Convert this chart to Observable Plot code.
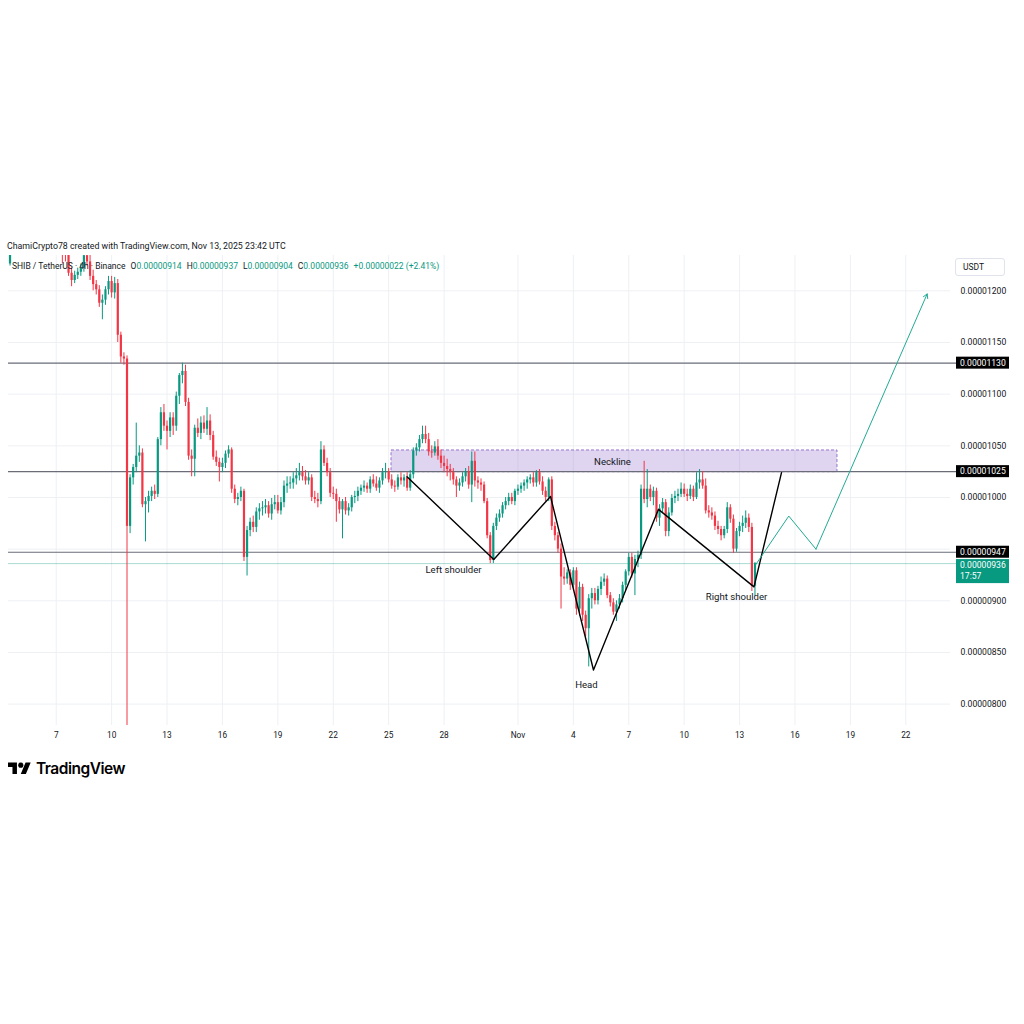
<!DOCTYPE html>
<html><head><meta charset="utf-8">
<script src="https://cdn.jsdelivr.net/npm/d3@7"></script>
<script src="https://cdn.jsdelivr.net/npm/@observablehq/plot@0.6"></script>
<style>
html,body{margin:0;padding:0;background:#fff;}
#page{position:relative;width:1024px;height:1024px;overflow:hidden;font-family:Roboto,"Noto Sans",sans-serif;color:#131722;}
#title{position:absolute;left:7px;top:240px;font-size:8.8px;line-height:12px;white-space:nowrap;}
#chart{position:absolute;left:0;top:250px;}
#legend{position:absolute;left:12px;top:260px;font-size:8.5px;line-height:12px;white-space:nowrap;}
#legend .val{color:#089981}
#legend .gap{display:inline-block;width:5px}
#unit{position:absolute;left:955px;top:258px;width:50px;height:18px;border:1px solid #e0e3eb;border-radius:3px;font-size:8.5px;line-height:16px;padding-left:7px;box-sizing:border-box;}
#logo{position:absolute;left:8px;top:759px;display:flex;align-items:center;gap:5px;font-family:Inter,Roboto,sans-serif;font-weight:600;font-size:15.5px;letter-spacing:-0.5px;color:#000;}
</style></head>
<body>
<div id="page">
  <div id="title">ChamiCrypto78 created with TradingView.com, Nov 13, 2025 23:42 UTC</div>
  <div id="chart"></div>
  <div id="legend"></div>
  <div id="unit">USDT</div>
  <div id="logo"><svg width="23" height="18" viewBox="0 0 36 28"><path d="M14 22H7V11H0V4h14v18zM28 22h-8l7.5-18h8L28 22z" fill="#000"/><circle cx="20" cy="8" r="4" fill="#000"/></svg><span>TradingView</span></div>
</div>
<script>
// ---------- DATA (prices in units of 0.00000001 USDT) ----------
const symbolText = "SHIB / TetherUS · 4h · Binance";
const firstCandle = "2025-10-04T08:00Z";   // open time of first 4h candle
const candleHours = 4;

const open = [
1262,1226,1252,1260,1276,1284,1275,1280,1295,1286,
1272,1278,1283,1270,1262,1268,1260,1252,1258,1245,
1238,1217,1210,1215,1218,1222,1234,1228,1214,1206,
1201,1188,1191,1201,1209,1198,1207,1157,1136,1134,
972,1019,1029,1040,1043,993,996,1001,1006,1003,
1056,1082,1069,1064,1077,1069,1098,1118,1122,1092,
1040,1037,1067,1062,1072,1066,1074,1060,1039,1034,
1029,1033,1042,1046,1008,998,1000,1006,942,968,
976,971,986,989,990,992,984,993,995,987,
995,1011,1013,1014,1018,1021,1024,1020,1016,1019,
1000,998,996,1046,1033,1024,1004,1003,996,988,
996,987,990,1000,1001,1006,1009,1011,1008,1017,
1013,1009,1016,1024,1025,1017,1011,1010,1019,1016,
1019,1009,1022,1045,1048,1056,1061,1056,1044,1043,
1049,1040,1033,1030,1027,1024,1017,1011,1014,1020,
1025,1012,1035,1016,1014,1012,996,963,939,972,
980,984,992,996,1000,996,1006,1008,1011,1014,
1017,1019,1014,1024,1015,1006,1000,1017,972,963,
950,923,921,927,915,929,892,913,886,873,
902,907,900,911,918,921,905,898,889,896,
902,915,928,942,926,940,944,1008,998,1008,
1000,1006,980,989,995,967,985,999,1001,1003,
1008,1003,1001,1008,1000,1014,1017,1011,987,985,
982,972,969,963,969,990,979,950,967,972,
975,980,971,914];
const high = [
1270,1262,1268,1282,1290,1296,1288,1302,1305,1294,
1285,1290,1292,1280,1275,1278,1270,1266,1268,1258,
1244,1222,1219,1222,1226,1240,1245,1235,1220,1210,
1205,1196,1204,1214,1214,1213,1211,1160,1140,1137,
1022,1032,1072,1050,1047,1000,1006,1010,1012,1058,
1087,1090,1074,1082,1082,1102,1120,1130,1128,1096,
1046,1070,1076,1078,1079,1087,1080,1064,1045,1038,
1038,1045,1050,1048,1012,1004,1010,1008,972,980,
982,990,994,996,998,996,999,1002,1002,1000,
1016,1020,1020,1024,1028,1033,1030,1026,1024,1022,
1006,1004,1054,1050,1038,1028,1010,1008,1000,998,
1000,994,1002,1006,1010,1012,1016,1014,1020,1022,
1020,1019,1028,1033,1028,1022,1016,1022,1024,1022,
1024,1026,1048,1052,1060,1069,1069,1062,1050,1054,
1056,1046,1040,1037,1032,1028,1020,1018,1024,1028,
1030,1044,1044,1020,1018,1015,999,966,975,984,
988,995,1000,1004,1004,1008,1012,1014,1017,1020,
1022,1024,1026,1027,1020,1010,1019,1020,976,966,
955,932,930,930,932,932,918,916,890,906,
912,912,914,923,926,924,908,902,900,906,
918,930,946,946,944,948,1012,1035,1027,1012,
1010,1009,993,999,998,990,1003,1006,1008,1014,
1013,1008,1012,1011,1024,1027,1025,1018,992,990,
986,977,972,972,995,993,983,970,976,982,
987,984,975,937];
const low = [
1222,1224,1245,1255,1268,1270,1262,1276,1280,1268,
1262,1270,1265,1255,1250,1256,1246,1240,1226,1228,
1214,1204,1207,1211,1214,1218,1224,1210,1200,1196,
1184,1172,1186,1196,1193,1192,1150,1130,1128,775,
965,1012,1024,1034,990,957,985,996,998,1000,
1050,1064,1046,1058,1060,1064,1090,1110,1088,1036,
1020,1020,1058,1056,1062,1060,1055,1036,1030,1015,
1024,1028,1038,1004,994,992,996,938,924,962,
966,966,978,982,984,980,978,988,984,983,
990,1004,1008,1008,1012,1016,1016,1012,1012,996,
994,990,993,1030,1020,1000,998,976,984,960,
983,982,986,994,996,1002,1005,1004,1004,1010,
1006,1004,1012,1018,1014,1008,1005,1007,1012,1010,
1006,1006,1018,1040,1044,1052,1052,1040,1038,1040,
1036,1028,1024,1020,1016,1012,1000,1006,1010,1015,
1008,995,1010,1008,1006,994,960,936,936,968,
976,980,988,992,993,992,1002,1004,1006,1008,
1013,1010,1010,1012,1002,996,996,968,958,946,
892,915,916,910,912,886,885,880,865,836,
892,896,896,905,914,902,894,886,880,892,
898,910,924,922,905,932,940,994,990,996,
992,976,972,985,962,962,982,994,996,1000,
1000,996,998,996,998,1008,1008,984,980,978,
968,964,958,960,965,975,946,947,962,966,
970,966,909,904];
const close = [
1226,1252,1260,1276,1284,1275,1280,1295,1286,1272,
1278,1283,1270,1262,1268,1260,1252,1258,1245,1238,
1217,1210,1215,1218,1222,1234,1228,1214,1206,1201,
1188,1191,1201,1209,1198,1207,1157,1136,1134,972,
1019,1029,1040,1043,993,996,1001,1006,1003,1056,
1082,1069,1064,1077,1069,1098,1118,1122,1092,1040,
1037,1067,1062,1072,1066,1074,1060,1039,1034,1029,
1033,1042,1046,1008,998,1000,1006,942,968,976,
971,986,989,990,992,984,993,995,987,995,
1011,1013,1014,1018,1021,1024,1020,1016,1019,1000,
998,996,1046,1033,1024,1004,1003,996,988,996,
987,990,1000,1001,1006,1009,1011,1008,1017,1013,
1009,1016,1024,1025,1017,1011,1010,1019,1016,1019,
1009,1022,1045,1048,1056,1061,1056,1044,1043,1049,
1040,1033,1030,1027,1024,1017,1011,1014,1020,1025,
1012,1035,1016,1014,1012,996,963,939,972,980,
984,992,996,1000,996,1006,1008,1011,1014,1017,
1019,1014,1024,1015,1006,1000,1017,972,963,950,
923,921,927,915,929,892,913,886,873,902,
907,900,911,918,921,905,898,889,896,902,
915,928,942,926,940,944,1008,998,1008,1000,
1006,980,989,995,967,985,999,1001,1003,1008,
1003,1001,1008,1000,1014,1017,1011,987,985,982,
972,969,963,969,990,979,950,967,972,975,
980,971,914,936];

// horizontal levels and price tags
const levelPrices = [1130, 1025, 947];
const lastPrice = 936;
const tagPrices = [1130, 1025, 947, 936];
const tagLines = [["0.00001130"], ["0.00001025"], ["0.00000947"], ["0.00000936", "17:57"]];

// head & shoulders drawing
const patternTimes = ["2025-10-25T23:50Z","2025-10-30T16:36Z","2025-11-02T18:17Z","2025-11-05T02:10Z","2025-11-08T14:38Z","2025-11-13T18:43Z","2025-11-15T06:29Z"];
const patternPrices = [1020, 940, 1001, 833, 988.5, 913.5, 1024];
const projTimes = ["2025-11-13T21:00Z","2025-11-15T15:56Z","2025-11-17T03:17Z","2025-11-23T03:46Z"];
const projPrices = [935, 982, 950, 1197];
const necklineTimes = ["2025-10-25T03:42Z","2025-11-18T07:12Z"];
const necklinePrices = [1024.5, 1045.5];
const annoTexts = ["Neckline","Left shoulder","Head","Right shoulder"];
const annoTimes = ["2025-11-06T02:53Z","2025-10-28T12:14Z","2025-11-04T17:03Z","2025-11-12T20:00Z"];
const annoPrices = [1034, 930, 819, 904];

// axes
const xTickDates = ["2025-10-07","2025-10-10","2025-10-13","2025-10-16","2025-10-19","2025-10-22","2025-10-25","2025-10-28","2025-11-01","2025-11-04","2025-11-07","2025-11-10","2025-11-13","2025-11-16","2025-11-19","2025-11-22"];
const xTickLabels = ["7","10","13","16","19","22","25","28","Nov","4","7","10","13","16","19","22"];
const yGrid = [800,850,900,950,1000,1050,1100,1150,1200];
const yTickLabels = [800,850,900,1000,1050,1100,1150,1200]; // 950 hidden behind the price tags
const xDomain = ["2025-10-04T10:00Z","2025-11-24T10:05Z"];
const yDomain = [779.3, 1234.2];

// ---------- STYLE ----------
const UP = "#089981", DOWN = "#f23645";
const tagFills = ["#000000","#000000","#000000","#089981"];
const tagShift = [0, 0, 0, 2];

// ---------- BUILD ----------
const fmt = v => (v / 1e8).toFixed(8);
const t0 = Date.parse(firstCandle);
const candles = open.map((o, i) => ({t: new Date(t0 + i * candleHours * 3600e3), o, h: high[i], l: low[i], c: close[i]}));
const ups = candles.filter(d => d.c >= d.o);
const downs = candles.filter(d => d.c < d.o);
const pattern = patternTimes.map((t, i) => ({t: new Date(t), p: patternPrices[i]}));
const proj = projTimes.map((t, i) => ({t: new Date(t), p: projPrices[i]}));
const projLine = proj.slice(0, 3);
const projArrow = [{x1: proj[2].t, y1: proj[2].p, x2: proj[3].t, y2: proj[3].p}];
const neck = [{x1: new Date(necklineTimes[0]), x2: new Date(necklineTimes[1]), y1: necklinePrices[0], y2: necklinePrices[1]}];
const annos = annoTexts.map((s, i) => ({s, t: new Date(annoTimes[i]), p: annoPrices[i]}));
const xTicks = xTickDates.map(d => new Date(d));
const xLabelMap = new Map(xTicks.map((d, i) => [+d, xTickLabels[i]]));

function tagMark(index, scales, values, dims) {
  const g = d3.create("svg:g").attr("font-size", 8.6).attr("text-anchor", "start");
  const x0 = dims.width - dims.marginRight + 6;
  tagPrices.forEach((p, i) => {
    const y = scales.y(p);
    const lines = tagLines[i];
    const top = y - 6 + tagShift[i];
    g.append("rect").attr("x", x0).attr("y", top).attr("width", 53).attr("height", 12 * lines.length).attr("fill", tagFills[i]);
    lines.forEach((s, k) => g.append("text").attr("x", x0 + 4).attr("y", top + 6 + 11 * k).attr("dy", "0.35em").attr("fill", "#fff").text(s));
  });
  return g.node();
}

const chart = Plot.plot({
  width: 1024, height: 500,
  marginLeft: 8, marginRight: 74, marginTop: 5, marginBottom: 25,
  style: {fontFamily: "Roboto, sans-serif", background: "transparent", color: "#131722"},
  x: {type: "utc", domain: xDomain.map(d => new Date(d)), axis: null},
  y: {domain: yDomain, axis: null},
  marks: [
    Plot.gridX(xTicks, {stroke: "#eef0f4", strokeOpacity: 1}),
    Plot.gridY(yGrid, {stroke: "#eef0f4", strokeOpacity: 1}),
    Plot.rect(neck, {x1: "x1", x2: "x2", y1: "y1", y2: "y2", fill: "rgba(149,117,205,0.3)", stroke: "#9575cd", strokeDasharray: "3,2", strokeWidth: 1}),
    Plot.ruleY(levelPrices, {stroke: "#6a6d78", strokeWidth: 1.2, insetRight: -7}),
    Plot.ruleY([lastPrice], {stroke: UP, strokeOpacity: 0.35, strokeWidth: 1, insetRight: -7}),
    Plot.ruleX(ups, {x: "t", y1: "l", y2: "h", stroke: UP, strokeWidth: 1, clip: true}),
    Plot.ruleX(downs, {x: "t", y1: "l", y2: "h", stroke: DOWN, strokeWidth: 1, clip: true}),
    Plot.ruleX(ups, {x: "t", y1: "o", y2: "c", stroke: UP, strokeWidth: 2.2, clip: true}),
    Plot.ruleX(downs, {x: "t", y1: "o", y2: "c", stroke: DOWN, strokeWidth: 2.2, clip: true}),
    Plot.line(pattern, {x: "t", y: "p", stroke: "#000", strokeWidth: 1.4}),
    Plot.line(projLine, {x: "t", y: "p", stroke: "#22ab94", strokeWidth: 1}),
    Plot.arrow(projArrow, {x1: "x1", y1: "y1", x2: "x2", y2: "y2", stroke: "#22ab94", strokeWidth: 1, headLength: 7}),
    Plot.text(annos, {x: "t", y: "p", text: "s", fontSize: 9.6, fill: "#131722"}),
    Plot.axisX(xTicks, {tickSize: 0, tickPadding: 7, fontSize: 8.3, tickFormat: d => xLabelMap.get(+d), label: null}),
    Plot.axisY(yTickLabels, {anchor: "right", tickSize: 0, tickPadding: 10, fontSize: 8.6, tickFormat: fmt, label: null}),
    tagMark
  ]
});
document.getElementById("chart").appendChild(chart);

// legend line built from the last candle
const n = close.length - 1;
const chg = close[n] - close[n - 1];
const pct = (chg / close[n - 1] * 100).toFixed(2);
const ohlc = [["O", open[n]], ["H", high[n]], ["L", low[n]], ["C", close[n]]];
document.getElementById("legend").innerHTML =
  `<span>${symbolText}</span><span class="gap"></span>` +
  ohlc.map(([k, v]) => `<span>${k}</span><span class="val">${fmt(v)}</span>`).join('<span class="gap"></span>') +
  `<span class="gap"></span><span class="val">${chg >= 0 ? "+" : ""}${fmt(chg)} (${chg >= 0 ? "+" : ""}${pct}%)</span>`;
</script>
</body></html>
